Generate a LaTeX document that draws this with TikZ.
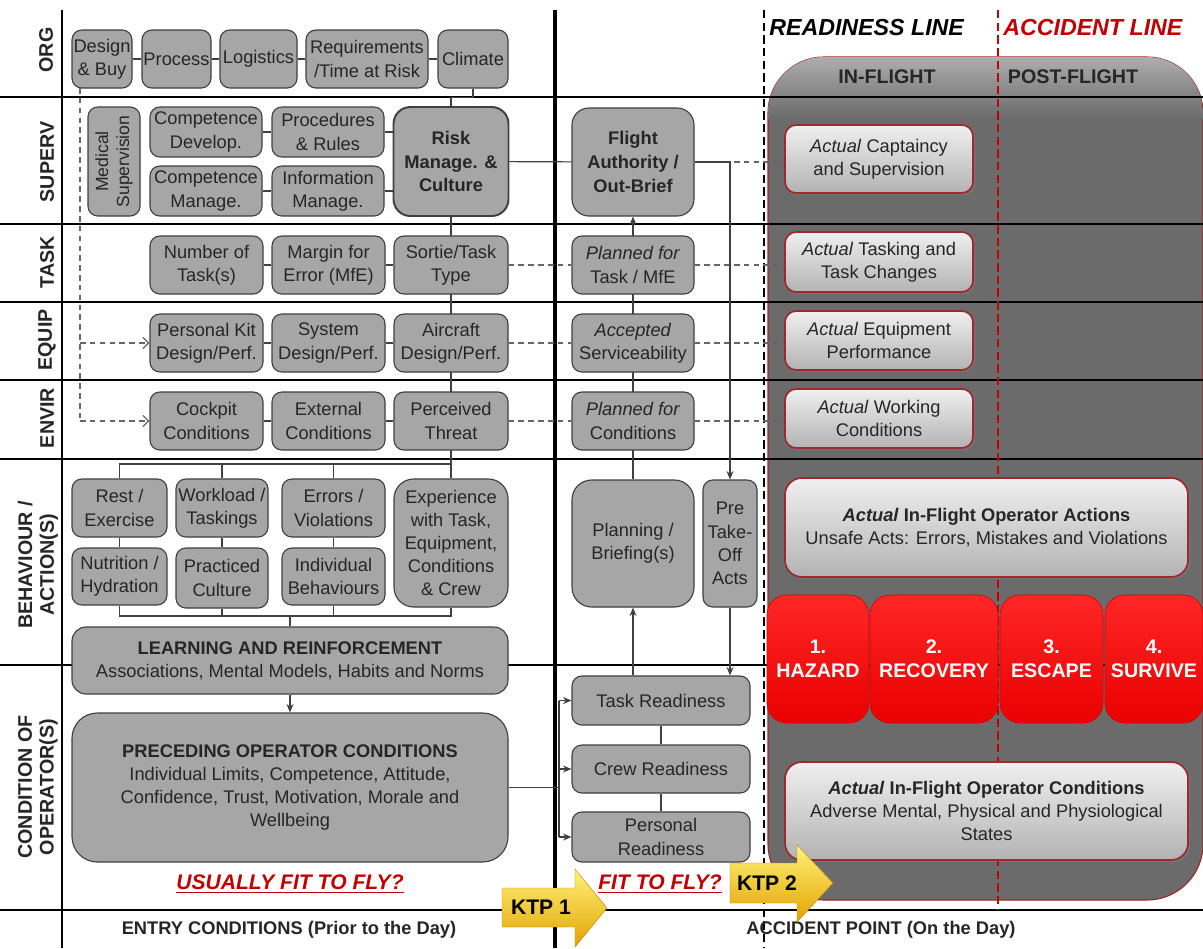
\documentclass[tikz,border=0pt]{standalone}
\usepackage{fontspec}
\setmainfont{Liberation Sans}
\usetikzlibrary{arrows.meta,shadows}
\definecolor{boxgray}{HTML}{A6A6A6}
\definecolor{inkgray}{HTML}{262626}
\definecolor{linered}{HTML}{C00000}
\definecolor{regiongray}{HTML}{6B6B6B}
\definecolor{actred}{HTML}{A0282A}
\definecolor{ktplight}{HTML}{FFF27A}
\definecolor{ktpmid}{HTML}{FFD500}
\definecolor{ktpdark}{HTML}{E2A200}
\pgfdeclarelayer{bg}
\pgfdeclarelayer{wires}
\pgfsetlayers{bg,wires,main}
\tikzset{
  wh/.style 2 args={minimum width=#1*0.025cm, minimum height=#2*0.025cm},
  box/.style={draw=black!75, fill=boxgray, line width=0.8pt, rounded corners=7pt,
    align=center, inner sep=1pt, text=inkgray, font=\fontsize{13}{16.5}\selectfont},
  boldbox/.style={box, line width=1.4pt, rounded corners=12pt,
    font=\fontsize{13}{17}\selectfont\bfseries},
  actbox/.style={draw=actred, line width=1.2pt, rounded corners=8pt,
    top color=black!6, bottom color=black!30, align=center, inner sep=1pt,
    text=inkgray, font=\fontsize{13}{16.5}\selectfont,
    drop shadow={shadow xshift=1.5pt, shadow yshift=-1.5pt, opacity=0.45}},
  redbox/.style={rounded corners=14pt, draw=red!85!black, line width=0.4pt,
    top color=red!85!white, middle color=red, bottom color=red!92!black,
    align=center, text=white, font=\fontsize{14}{17}\selectfont\bfseries},
  rowlabel/.style={rotate=90, align=center, text=inkgray,
    font=\fontsize{14}{15.5}\selectfont\bfseries},
  rowline/.style={line width=1.4pt},
  link/.style={draw=black!75, line width=0.8pt},
  dlink/.style={draw=black!60, line width=0.9pt, dash pattern=on 4pt off 3pt},
  fitlabel/.style={text=linered, font=\fontsize{15}{17}\selectfont\bfseries\itshape},
  ktp/.style={top color=ktplight, middle color=ktpmid, bottom color=ktpdark,
    draw=ktpdark!85!black, line width=0.3pt},
}
\begin{document}
\begin{tikzpicture}[x=0.025cm, y=-0.025cm, >={Stealth[length=6pt,width=5pt]}]
\useasboundingbox (0,0) rectangle (1203,948);

% grid and the in-flight region
\begin{pgfonlayer}{bg}
\fill[white] (0,0) rectangle (1203,948);
\path[fill=regiongray, draw=actred, line width=0.8pt, rounded corners=1.4cm] (768,57) rectangle (1203,900);
\begin{scope}
\clip[rounded corners=1.4cm] (768,57) rectangle (1203,900);
\shade[top color=black!32, bottom color=regiongray] (768,57) rectangle (1203,118);
\end{scope}
\foreach \y in {97,224,302,380,459,665,910}
  \draw[rowline] (0,\y) -- (1203,\y);
\draw[line width=2pt] (62,10) -- (62,948);
\draw[line width=3.5pt] (555,10) -- (555,948);
\draw[line width=1.8pt, dash pattern=on 6pt off 3pt] (764,10) -- (764,948);
\draw[linered, line width=1.8pt, dash pattern=on 6pt off 3pt] (998,10) -- (998,910);
\end{pgfonlayer}

% row labels
\node[rowlabel] (lorg) at (46,50) {ORG};
\node[rowlabel] (lsup) at (47,162) {SUPERV};
\node[rowlabel] (ltask) at (47,262) {TASK};
\node[rowlabel] (lequip) at (47,340) {EQUIP};
\node[rowlabel] (lenvir) at (47,418) {ENVIR};
\node[rowlabel] (lbehav) at (38,565) {BEHAVIOUR /\\ACTION(S)};
\node[rowlabel] (lcond) at (38,787) {CONDITION OF\\OPERATOR(S)};

% ORG
\node[box, wh={60}{58}] (design) at (102,59) {Design\\\& Buy};
\node[box, wh={69}{58}] (process) at (176.5,59) {Process};
\node[box, wh={77}{58}] (logistics) at (258.5,59) {Logistics};
\node[box, wh={122}{58}] (require) at (367,59) {Requirements\\/Time at Risk};
\node[box, wh={70}{58}] (climate) at (473,59) {Climate};

% SUPERV
\node[box, wh={109}{52}, rotate=90, font=\fontsize{12.5}{15}\selectfont] (medical) at (114,161.5) {Medical\\Supervision};
\node[box, wh={112}{50}] (compdev) at (206,132) {Competence\\Develop.};
\node[box, wh={112}{50}] (compman) at (206,191) {Competence\\Manage.};
\node[box, wh={112}{50}] (procs) at (328,132) {Procedures\\\& Rules};
\node[box, wh={112}{50}] (infoman) at (328,191) {Information\\Manage.};
\node[boldbox, wh={115}{109}] (riskman) at (451,161.5) {Risk\\Manage. \&\\Culture};

% TASK, EQUIP, ENVIR
\node[box, wh={113}{58}] (numtask) at (206.5,265) {Number of\\Task(s)};
\node[box, wh={113}{58}] (margin) at (328.5,265) {Margin for\\Error (MfE)};
\node[box, wh={114}{58}] (sortie) at (451,265) {Sortie/Task\\Type};
\node[box, wh={113}{58}] (kit) at (206.5,343) {Personal Kit\\Design/Perf.};
\node[box, wh={113}{58}] (system) at (328.5,343) {System\\Design/Perf.};
\node[box, wh={114}{58}] (aircraft) at (451,343) {Aircraft\\Design/Perf.};
\node[box, wh={113}{58}] (cockpit) at (206.5,421) {Cockpit\\Conditions};
\node[box, wh={113}{58}] (external) at (328.5,421) {External\\Conditions};
\node[box, wh={114}{58}] (threat) at (451,421) {Perceived\\Threat};

% BEHAVIOUR / ACTION(S)
\node[box, wh={95}{58}] (rest) at (119.5,508) {Rest /\\Exercise};
\node[box, wh={92}{58}] (workload) at (222,508) {Workload /\\Taskings};
\node[box, wh={103}{58}] (errors) at (333.5,508) {Errors /\\Violations};
\node[box, wh={95}{57}] (nutrition) at (119.5,576.5) {Nutrition /\\Hydration};
\node[box, wh={92}{60}] (practiced) at (222,578) {Practiced\\Culture};
\node[box, wh={103}{57}] (individual) at (333.5,576.5) {Individual\\Behaviours};
\node[box, wh={114}{128}, rounded corners=14pt] (experience) at (451,543) {Experience\\with Task,\\Equipment,\\Conditions\\\& Crew};
\node[box, wh={436}{67}, rounded corners=10pt] (learning) at (290,660.5) {\textbf{LEARNING AND REINFORCEMENT}\\Associations, Mental Models, Habits and Norms};

% CONDITION OF OPERATOR(S)
\node[box, wh={436}{149}, rounded corners=18pt] (preceding) at (290,787.5) {\textbf{PRECEDING OPERATOR CONDITIONS}\\Individual Limits, Competence, Attitude,\\Confidence, Trust, Motivation, Morale and\\Wellbeing};

% on the day
\node[boldbox, line width=0.8pt, wh={122}{108}] (authority) at (633,162) {Flight\\Authority /\\Out-Brief};
\node[box, wh={122}{58}] (plantask) at (633,265) {\textit{Planned for}\\Task / MfE};
\node[box, wh={122}{58}] (service) at (633,343) {\textit{Accepted}\\Serviceability};
\node[box, wh={122}{58}] (plancond) at (633,421) {\textit{Planned for}\\Conditions};
\node[box, wh={122}{127}, rounded corners=14pt] (planning) at (633,543.5) {Planning /\\Briefing(s)};
\node[box, wh={54}{127}] (pretake) at (730,543.5) {Pre\\Take-\\Off\\Acts};
\node[box, wh={178}{49}] (taskready) at (661,700.5) {Task Readiness};
\node[box, wh={178}{48}] (crewready) at (661,769) {Crew Readiness};
\node[box, wh={178}{50}] (personready) at (661,837) {Personal\\Readiness};

% in-flight
\node[anchor=west, inner sep=0pt, font=\fontsize{16.5}{18}\selectfont\bfseries\itshape] (readiness) at (769,28) {READINESS LINE};
\node[anchor=west, inner sep=0pt, text=linered, font=\fontsize{16.5}{18}\selectfont\bfseries\itshape] (accident) at (1003,28) {ACCIDENT LINE};
\node[text=inkgray, font=\fontsize{14}{16}\selectfont\bfseries] (inflight) at (887,77) {IN-FLIGHT};
\node[text=inkgray, font=\fontsize{14}{16}\selectfont\bfseries] (postflight) at (1073,77) {POST-FLIGHT};
\node[actbox, wh={188}{68}] (actcapt) at (879,159) {\textit{Actual} Captaincy\\and Supervision};
\node[actbox, wh={188}{60}] (acttask) at (879,262) {\textit{Actual} Tasking and\\Task Changes};
\node[actbox, wh={188}{59}] (actequip) at (879,340.5) {\textit{Actual} Equipment\\Performance};
\node[actbox, wh={188}{59}] (actwork) at (879,418.5) {\textit{Actual} Working\\Conditions};
\node[actbox, wh={403}{99}, rounded corners=12pt] (actions) at (986.5,527.5) {\textbf{\textit{Actual} In-Flight Operator Actions}\\Unsafe Acts: Errors, Mistakes and Violations};
\node[redbox, wh={102}{128}] (hazard) at (818,659) {1.\\HAZARD};
\node[redbox, wh={128}{128}] (recovery) at (934,659) {2.\\RECOVERY};
\node[redbox, wh={103}{128}] (escape) at (1051.5,659) {3.\\ESCAPE};
\node[redbox, wh={98}{128}] (survive) at (1154,659) {4.\\SURVIVE};
\node[actbox, wh={403}{98}, rounded corners=12pt] (actcond) at (986.5,811) {\textbf{\textit{Actual} In-Flight Operator Conditions}\\Adverse Mental, Physical and Physiological\\States};

% bottom texts
\node[fitlabel] (usually) at (290,884) {\underline{USUALLY FIT TO FLY?}};
\node[fitlabel] (fittofly) at (660,884) {\underline{FIT TO FLY?}};
\node[text=inkgray, font=\fontsize{13}{15}\selectfont\bfseries] (entry) at (289,930) {ENTRY CONDITIONS (Prior to the Day)};
\node[text=inkgray, font=\fontsize{13}{15}\selectfont\bfseries] (accpoint) at (881,930) {ACCIDENT POINT (On the Day)};

% key transition points
\shade[ktp] (502,888) -- (575,888) -- (575,869) -- (607,908) -- (575,947) -- (575,927) -- (502,927) -- cycle;
\node[font=\fontsize{15}{17}\selectfont\bfseries] (ktpone) at (541,907) {KTP 1};
\shade[ktp] (730,863) -- (797,863) -- (797,845) -- (833,883) -- (797,922) -- (797,903) -- (730,903) -- cycle;
\node[font=\fontsize{15}{17}\selectfont\bfseries] (ktptwo) at (767,883) {KTP 2};

% connectors
\begin{pgfonlayer}{wires}
\draw[link] (design) -- (process) -- (logistics) -- (require) -- (climate);
\draw[link] (climate.south) -- ++(0,9) -| (riskman.north);
\draw[link] (compdev) -- (procs) -- (riskman.west |- procs);
\draw[link] (compman) -- (infoman) -- (riskman.west |- infoman);
\draw[link] (riskman) -- (authority);
\draw[link] (riskman.south) -- (experience.north);
\draw[link] (numtask) -- (margin) -- (sortie);
\draw[link] (kit) -- (system) -- (aircraft);
\draw[link] (cockpit) -- (external) -- (threat);
\coordinate (topbar) at (451,464);
\draw[link] (rest.north) |- (topbar);
\draw[link] (workload.north) -- (workload.north |- topbar);
\draw[link] (errors.north) -- (errors.north |- topbar);
\draw[link] (rest) -- (nutrition);
\draw[link] (workload) -- (practiced);
\draw[link] (errors) -- (individual);
\coordinate (lowbar) at (451,616);
\draw[link] (nutrition.south) |- (lowbar) -- (experience.south);
\draw[link] (practiced.south) -- (practiced.south |- lowbar);
\draw[link] (individual.south) -- (individual.south |- lowbar);
\draw[link] (learning.north |- lowbar) -- (learning.north);
\draw[link, ->] (learning) -- (preceding);
% dashed feeds from design & buy
\coordinate (dtop) at (80,88);
\draw[dlink] (dtop) -- (dtop |- cockpit);
\draw[dlink, -{Straight Barb[length=4pt,width=8pt]}] (dtop |- kit) -- (kit.west);
\draw[dlink, -{Straight Barb[length=4pt,width=8pt]}] (dtop |- cockpit) -- (cockpit.west);
% dashed links across the day
\draw[dlink] (sortie) -- (plantask);
\draw[dlink] (plantask.east) -- (plantask.east -| acttask.west);
\draw[dlink] (aircraft) -- (service);
\draw[dlink] (service.east) -- (service.east -| actequip.west);
\draw[dlink] (threat) -- (plancond);
\draw[dlink] (plancond.east) -- (plancond.east -| actwork.west);
\draw[dlink] (authority.east) -- (authority.east -| actcapt.west);
% middle column
\draw[link, ->] (planning) -- (authority);
\draw[link, ->] (taskready.north -| planning) -- (planning.south);
\draw[link, ->] (authority.east) -| (pretake.north);
\draw[link, ->] (pretake.south) -- (pretake.south |- taskready.north);
\draw[link] (taskready) -- (crewready) -- (personready);
\coordinate (feed) at (559,787.5);
\draw[link] (preceding.east) -- (feed);
\draw[link] (feed |- taskready) -- (feed |- personready);
\foreach \n in {taskready,crewready,personready}
  \draw[link, ->] (feed |- \n) -- (\n.west);
\end{pgfonlayer}
\end{tikzpicture}
\end{document}
